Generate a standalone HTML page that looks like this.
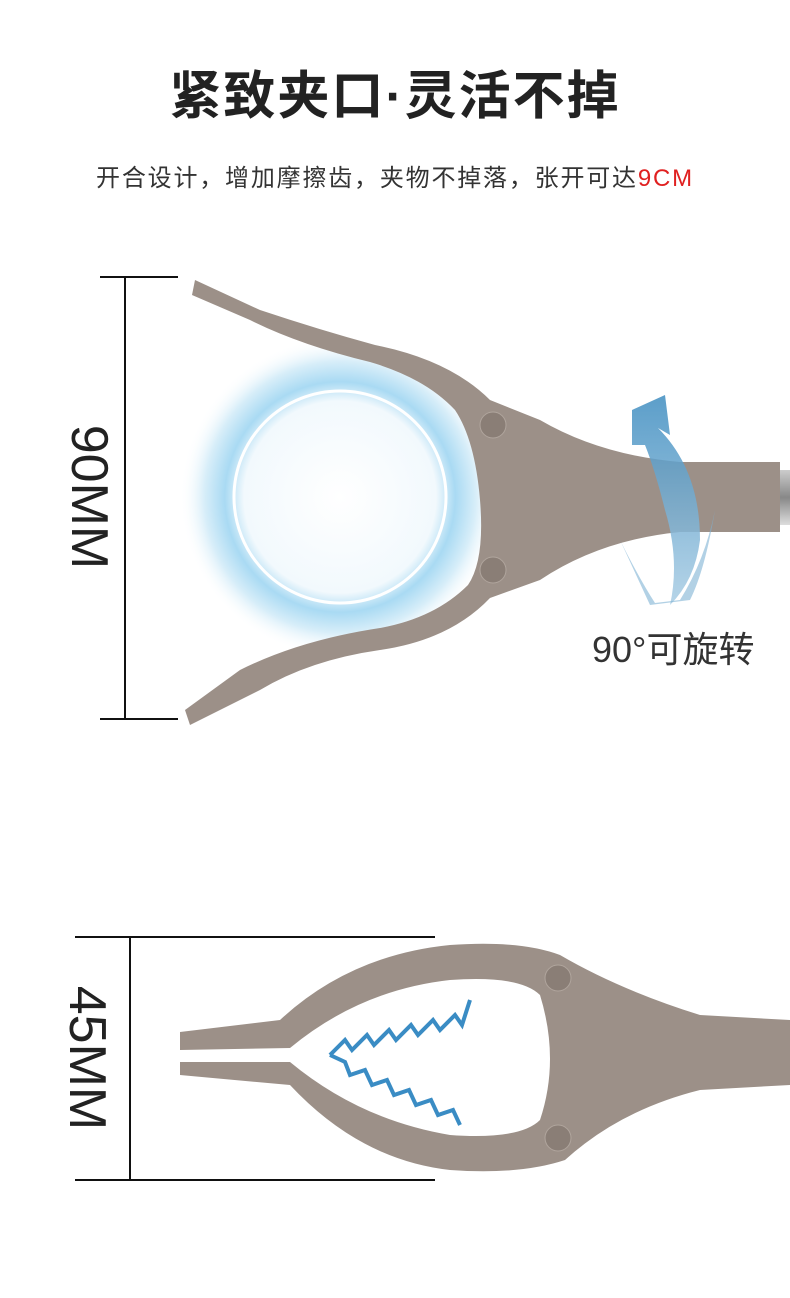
<!DOCTYPE html>
<html><head><meta charset="utf-8"><style>
html,body{margin:0;padding:0;background:#fff;}
body{width:790px;height:1298px;position:relative;overflow:hidden;font-family:"Liberation Sans","Noto Sans CJK SC",sans-serif;}
.t{position:absolute;left:0;width:790px;text-align:center;}
</style></head><body>
<div class="t" style="top:54px;font-size:52px;font-weight:bold;color:#222;letter-spacing:2px;">紧致夹口·灵活不掉</div>
<div class="t" style="top:158px;font-size:24px;color:#333;letter-spacing:1.8px;">开合设计，增加摩擦齿，夹物不掉落，张开可达<span style="color:#e02020">9CM</span></div>
<svg width="790" height="1298" style="position:absolute;left:0;top:0">
<defs>
<radialGradient id="g" cx="50%" cy="50%" r="50%">
<stop offset="0" stop-color="#fff"/><stop offset="0.6" stop-color="#f2f9fd"/><stop offset="0.72" stop-color="#a9daf3"/><stop offset="0.85" stop-color="#d8eef9"/><stop offset="1" stop-color="#fff" stop-opacity="0"/>
</radialGradient>
<linearGradient id="rod" x1="0" y1="0" x2="0" y2="1"><stop offset="0" stop-color="#ccc"/><stop offset=".5" stop-color="#888"/><stop offset="1" stop-color="#ddd"/></linearGradient>
<linearGradient id="ar" x1="0" y1="0" x2="0" y2="1"><stop offset="0" stop-color="#3f8dc0"/><stop offset="1" stop-color="#a9cde4"/></linearGradient>
</defs>
<g stroke="#111" stroke-width="2">
<line x1="100" y1="277" x2="178" y2="277"/><line x1="100" y1="719" x2="178" y2="719"/><line x1="125" y1="277" x2="125" y2="719"/>
<line x1="75" y1="937" x2="435" y2="937"/><line x1="75" y1="1180" x2="435" y2="1180"/><line x1="130" y1="937" x2="130" y2="1180"/>
</g>
<text x="0" y="0" transform="translate(72,497) rotate(90)" text-anchor="middle" font-size="52" fill="#222" font-family="Liberation Sans">90MM</text>
<text x="0" y="0" transform="translate(70,1058) rotate(90)" text-anchor="middle" font-size="52" fill="#222" font-family="Liberation Sans">45MM</text>
<circle cx="340" cy="497" r="160" fill="url(#g)"/>
<circle cx="340" cy="497" r="106" fill="none" stroke="#fff" stroke-width="3"/>
<rect x="770" y="470" width="22" height="55" fill="url(#rod)"/>
<path d="M195,280 L260,310 Q320,330 375,345 Q450,360 490,400 L540,420 Q600,455 680,462 L780,462 L780,532 L680,532 Q600,540 540,580 L490,598 Q450,640 380,650 Q310,660 260,690 L190,725 L185,710 L240,670 Q300,640 380,628 Q435,618 468,585 Q485,560 480,500 Q475,440 455,410 Q425,378 370,362 Q300,345 250,320 L192,295 Z" fill="#9c9088"/>
<circle cx="493" cy="425" r="13" fill="#8a7e76" stroke="#b0a59d"/>
<circle cx="493" cy="570" r="13" fill="#8a7e76" stroke="#b0a59d"/>
<path d="M632,410 L665,395 L670,435 L658,428 Q700,470 700,540 Q695,580 670,605 Q680,560 665,510 Q655,470 645,445 L632,445 Z" fill="url(#ar)" opacity=".85"/>
<path d="M620,540 Q640,580 655,603 L680,600 Q705,560 715,510 Q705,570 690,600 L650,605 Z" fill="#7fb3d4" opacity=".6"/>
<text x="592" y="662" font-size="36" fill="#333" font-family="Liberation Sans,Noto Sans CJK SC,sans-serif">90°可旋转</text>
<path d="M180,1032 L280,1020 Q350,955 450,945 Q520,940 560,955 Q620,990 700,1015 L790,1020 L790,1085 L700,1090 Q620,1110 565,1160 Q520,1175 450,1170 Q360,1160 290,1085 L180,1075 L180,1062 L290,1062 Q360,1120 450,1135 Q520,1140 540,1120 Q560,1060 540,995 Q520,975 450,980 Q360,990 290,1048 L180,1050 Z" fill="#9c9088"/>
<circle cx="558" cy="978" r="13" fill="#8a7e76" stroke="#b0a59d"/>
<circle cx="558" cy="1138" r="13" fill="#8a7e76" stroke="#b0a59d"/>
<polyline points="330,1055 345,1040 352,1050 367,1035 374,1045 389,1030 396,1040 411,1025 418,1035 433,1020 440,1030 455,1015 462,1025 470,1000" fill="none" stroke="#3a8cc4" stroke-width="4"/>
<polyline points="330,1055 345,1062 350,1075 365,1070 372,1085 387,1080 394,1095 409,1090 416,1105 431,1100 438,1115 453,1110 460,1125" fill="none" stroke="#3a8cc4" stroke-width="4"/>
</svg>
</body></html>
